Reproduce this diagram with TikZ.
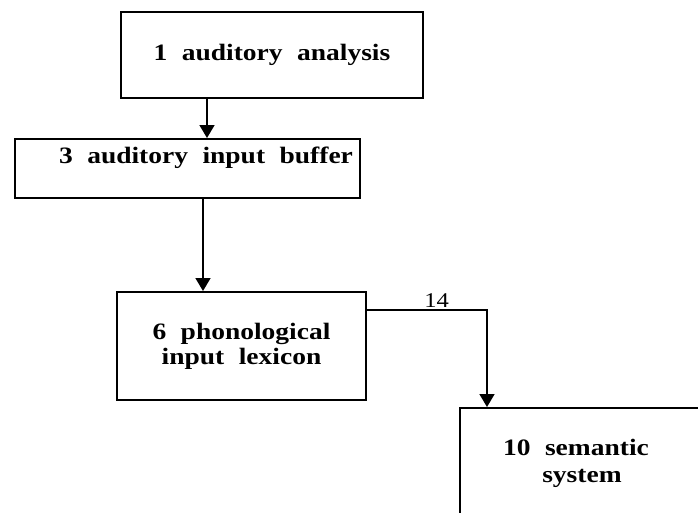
\documentclass[tikz,border=0pt]{standalone}
\usepackage{fontspec}
\setmainfont{Liberation Serif}[FakeStretch=1.17, WordSpace=2.1]
\usetikzlibrary{arrows.meta}
\tikzset{
  box/.style={draw, line width=2pt, rectangle, inner sep=0pt, font=\fontsize{23.5}{25}\selectfont\bfseries, align=center},
  boxtext/.style={inner sep=0pt, font=\fontsize{23.5}{27}\selectfont\bfseries, align=center},
  link/.style={line width=1.6pt, -{Triangle[width=15pt,length=13pt]}},
  numlabel/.style={inner sep=2pt, font=\fontsize{21}{22}\selectfont}
}
\begin{document}
\begin{tikzpicture}[x=1pt, y=-1pt]
  \clip (0,0) rectangle (698,512);
  \fill[white] (0,0) rectangle (698,512);

  % processing stages
  \node[box, minimum width=302pt, minimum height=86pt] (analysis) at (272,55) {1 auditory analysis};
  \node[box, minimum width=345pt, minimum height=59pt, anchor=north west] (buffer) at (14,138) {};
  \node[boxtext, anchor=base] (buffertxt) at (206,163) {3 auditory input buffer};
  \node[box, minimum width=249pt, minimum height=108pt] (lexicon) at (241.5,346) {6 phonological\\input lexicon};
  \node[box, minimum width=300pt, minimum height=150pt, anchor=north west] (semantic) at (459,407) {};
  \node[boxtext] (semantictxt) at (576,463) {10 semantic\\\hspace*{12pt}system};

  % routes between stages
  \draw[link] ([xshift=-65pt]analysis.south) -- ([xshift=-65pt]analysis.south |- buffer.north);
  \draw[link] ([xshift=15.5pt]buffer.south) -- ([xshift=15.5pt]buffer.south |- lexicon.north);
  \draw[link] ([yshift=36pt]lexicon.east) -| ([xshift=28pt]semantic.north west)
    node[numlabel, pos=0.29, above] (route14) {14};
\end{tikzpicture}
\end{document}
